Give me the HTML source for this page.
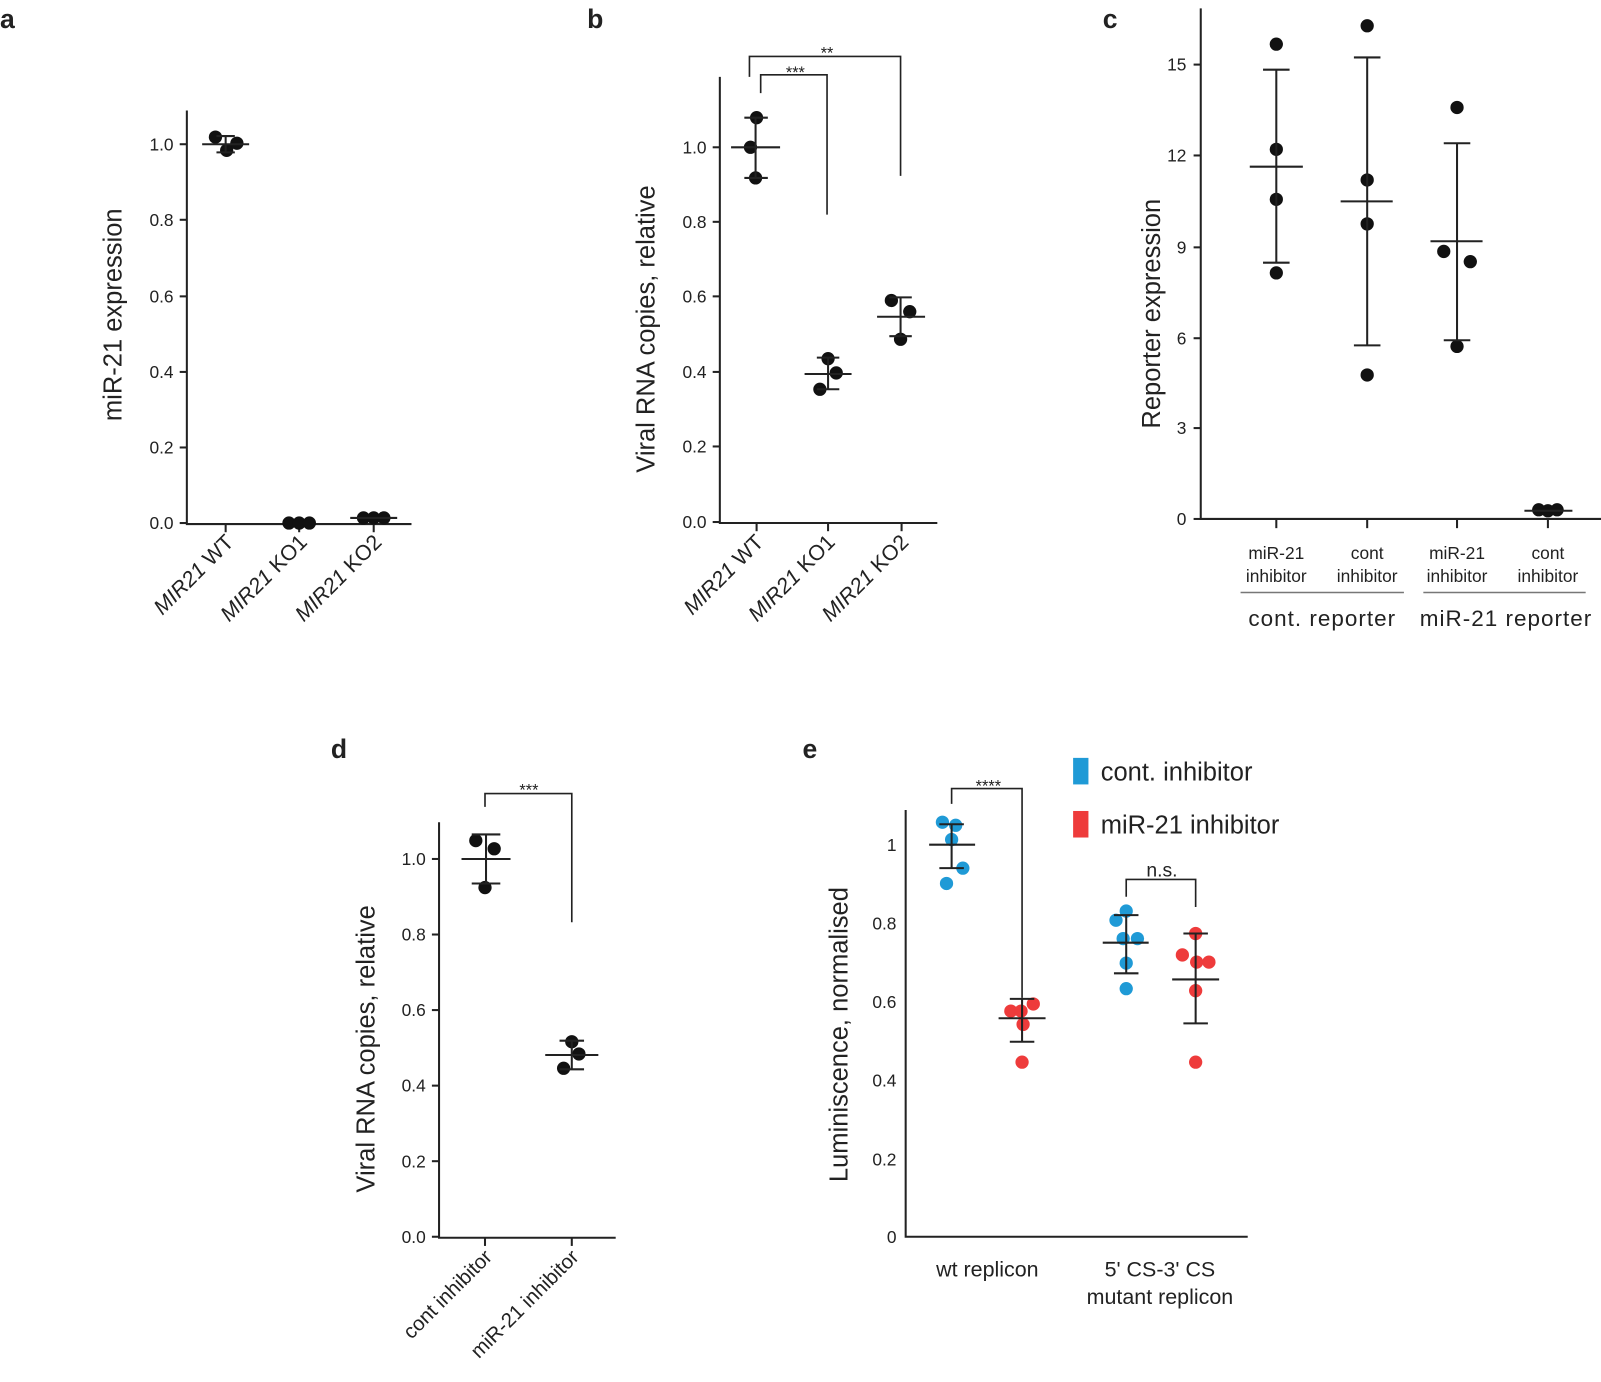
<!DOCTYPE html>
<html><head><meta charset="utf-8"><style>
html,body{margin:0;padding:0;background:#fff}
svg{display:block}
text{font-family:"Liberation Sans",sans-serif;fill:#222}
.t{font-size:17px;text-anchor:end}
.yl{font-size:25px;text-anchor:middle}
.pl{font-size:26px;font-weight:bold}
line,path,polyline{stroke:#222;stroke-width:2;fill:none}
.g{stroke:#777;stroke-width:1.5}
circle{fill:#111}
.b{fill:#1f9ad6}.r{fill:#ee3b3b}
</style></head><body>
<svg width="1601" height="1382" viewBox="0 0 1568 1353" xmlns="http://www.w3.org/2000/svg">
<!-- Panel a -->
<text class="pl" x="0" y="27">a</text>
<polyline points="183,108 183,513 403,513"/>
<g>
<line x1="176" y1="512" x2="183" y2="512"/><line x1="176" y1="438" x2="183" y2="438"/><line x1="176" y1="364" x2="183" y2="364"/><line x1="176" y1="290" x2="183" y2="290"/><line x1="176" y1="215" x2="183" y2="215"/><line x1="176" y1="141" x2="183" y2="141"/>
<text class="t" x="170" y="518">0.0</text><text class="t" x="170" y="444">0.2</text><text class="t" x="170" y="370">0.4</text><text class="t" x="170" y="296">0.6</text><text class="t" x="170" y="221">0.8</text><text class="t" x="170" y="147">1.0</text>
<line x1="221" y1="513" x2="221" y2="521"/><line x1="293" y1="513" x2="293" y2="521"/><line x1="366" y1="513" x2="366" y2="521"/>
</g>
<text class="yl" transform="translate(119,308) rotate(-90)">miR-21 expression</text>
<circle cx="211" cy="134" r="6.5"/><circle cx="222" cy="147" r="6.5"/><circle cx="232" cy="140" r="6.5"/>
<line x1="198" y1="141" x2="244" y2="141"/><line x1="221" y1="133" x2="221" y2="149"/><line x1="212" y1="133" x2="230" y2="133"/><line x1="212" y1="149" x2="230" y2="149"/>
<circle cx="283" cy="512" r="6.5"/><circle cx="293" cy="512" r="6.5"/><circle cx="303" cy="512" r="6.5"/>
<circle cx="356" cy="507" r="6.5"/><circle cx="366" cy="507" r="6.5"/><circle cx="376" cy="507" r="6.5"/>
<line x1="343" y1="507" x2="389" y2="507"/>
<g font-size="21" text-anchor="end">
<text transform="translate(230,532) rotate(-45)"><tspan font-style="italic">MIR21</tspan> WT</text>
<text transform="translate(302,532) rotate(-45)"><tspan font-style="italic">MIR21</tspan> KO1</text>
<text transform="translate(375,532) rotate(-45)"><tspan font-style="italic">MIR21</tspan> KO2</text>
</g>

<!-- Panel b -->
<text class="pl" x="575" y="27">b</text>
<polyline points="705,75 705,512 918,512"/>
<line x1="698" y1="511" x2="705" y2="511"/><line x1="698" y1="437" x2="705" y2="437"/><line x1="698" y1="364" x2="705" y2="364"/><line x1="698" y1="290" x2="705" y2="290"/><line x1="698" y1="217" x2="705" y2="217"/><line x1="698" y1="144" x2="705" y2="144"/>
<text class="t" x="692" y="517">0.0</text><text class="t" x="692" y="443">0.2</text><text class="t" x="692" y="370">0.4</text><text class="t" x="692" y="296">0.6</text><text class="t" x="692" y="223">0.8</text><text class="t" x="692" y="150">1.0</text>
<line x1="741" y1="512" x2="741" y2="520"/><line x1="811" y1="512" x2="811" y2="520"/><line x1="883" y1="512" x2="883" y2="520"/>
<text class="yl" transform="translate(641,322) rotate(-90)">Viral RNA copies, relative</text>
<circle cx="741" cy="115" r="6.5"/><circle cx="735" cy="144" r="6.5"/><circle cx="740" cy="174" r="6.5"/>
<line x1="716" y1="144" x2="764" y2="144"/><line x1="740" y1="115" x2="740" y2="174"/><line x1="729" y1="115" x2="752" y2="115"/><line x1="729" y1="174" x2="752" y2="174"/>
<circle cx="811" cy="351" r="6.5"/><circle cx="819" cy="365" r="6.5"/><circle cx="803" cy="381" r="6.5"/>
<line x1="788" y1="366" x2="834" y2="366"/><line x1="811" y1="350" x2="811" y2="381"/><line x1="800" y1="350" x2="822" y2="350"/><line x1="800" y1="381" x2="822" y2="381"/>
<circle cx="873" cy="294" r="6.5"/><circle cx="891" cy="305" r="6.5"/><circle cx="882" cy="332" r="6.5"/>
<line x1="859" y1="310" x2="906" y2="310"/><line x1="882" y1="291" x2="882" y2="329"/><line x1="871" y1="291" x2="893" y2="291"/><line x1="871" y1="329" x2="893" y2="329"/>
<polyline points="745,91 745,73 810,73 810,210" style="stroke-width:1.6"/>
<polyline points="734,75 734,55 882,55 882,172" style="stroke-width:1.6"/>
<text x="779" y="76" font-size="16" text-anchor="middle">***</text>
<text x="810" y="57" font-size="16" text-anchor="middle">**</text>
<g font-size="21" text-anchor="end">
<text transform="translate(749,532) rotate(-45)"><tspan font-style="italic">MIR21</tspan> WT</text>
<text transform="translate(819,532) rotate(-45)"><tspan font-style="italic">MIR21</tspan> KO1</text>
<text transform="translate(891,532) rotate(-45)"><tspan font-style="italic">MIR21</tspan> KO2</text>
</g>

<!-- Panel c -->
<text class="pl" x="1080" y="27">c</text>
<polyline points="1176,8 1176,508 1568,508"/>
<line x1="1169" y1="508" x2="1176" y2="508"/><line x1="1169" y1="419" x2="1176" y2="419"/><line x1="1169" y1="331" x2="1176" y2="331"/><line x1="1169" y1="242" x2="1176" y2="242"/><line x1="1169" y1="152" x2="1176" y2="152"/><line x1="1169" y1="63" x2="1176" y2="63"/>
<text class="t" x="1162" y="514">0</text><text class="t" x="1162" y="425">3</text><text class="t" x="1162" y="337">6</text><text class="t" x="1162" y="248">9</text><text class="t" x="1162" y="158">12</text><text class="t" x="1162" y="69">15</text>
<line x1="1250" y1="508" x2="1250" y2="517"/><line x1="1339" y1="508" x2="1339" y2="517"/><line x1="1427" y1="508" x2="1427" y2="517"/><line x1="1516" y1="508" x2="1516" y2="517"/>
<text class="yl" transform="translate(1136,307) rotate(-90)">Reporter expression</text>
<circle cx="1250" cy="43" r="6.5"/><circle cx="1250" cy="146" r="6.5"/><circle cx="1250" cy="195" r="6.5"/><circle cx="1250" cy="267" r="6.5"/>
<line x1="1224" y1="163" x2="1276" y2="163"/><line x1="1250" y1="68" x2="1250" y2="257"/><line x1="1237" y1="68" x2="1263" y2="68"/><line x1="1237" y1="257" x2="1263" y2="257"/>
<circle cx="1339" cy="25" r="6.5"/><circle cx="1339" cy="176" r="6.5"/><circle cx="1339" cy="219" r="6.5"/><circle cx="1339" cy="367" r="6.5"/>
<line x1="1313" y1="197" x2="1364" y2="197"/><line x1="1339" y1="56" x2="1339" y2="338"/><line x1="1326" y1="56" x2="1352" y2="56"/><line x1="1326" y1="338" x2="1352" y2="338"/>
<circle cx="1427" cy="105" r="6.5"/><circle cx="1414" cy="246" r="6.5"/><circle cx="1440" cy="256" r="6.5"/><circle cx="1427" cy="339" r="6.5"/>
<line x1="1401" y1="236" x2="1452" y2="236"/><line x1="1427" y1="140" x2="1427" y2="333"/><line x1="1414" y1="140" x2="1440" y2="140"/><line x1="1414" y1="333" x2="1440" y2="333"/>
<circle cx="1507" cy="499" r="6.5"/><circle cx="1516" cy="500" r="6.5"/><circle cx="1525" cy="499" r="6.5"/>
<line x1="1493" y1="500" x2="1540" y2="500"/>
<g font-size="17" text-anchor="middle">
<text x="1250" y="547">miR-21</text><text x="1250" y="570">inhibitor</text>
<text x="1339" y="547">cont</text><text x="1339" y="570">inhibitor</text>
<text x="1427" y="547">miR-21</text><text x="1427" y="570">inhibitor</text>
<text x="1516" y="547">cont</text><text x="1516" y="570">inhibitor</text>
</g>
<line class="g" x1="1215" y1="580" x2="1375" y2="580"/><line class="g" x1="1394" y1="580" x2="1553" y2="580"/>
<text x="1295" y="613" font-size="22" text-anchor="middle" letter-spacing="1">cont. reporter</text>
<text x="1475" y="613" font-size="22" text-anchor="middle" letter-spacing="1">miR-21 reporter</text>

<!-- Panel d -->
<text class="pl" x="324" y="742">d</text>
<polyline points="430,805 430,1212 603,1212"/>
<line x1="423" y1="1211" x2="430" y2="1211"/><line x1="423" y1="1137" x2="430" y2="1137"/><line x1="423" y1="1063" x2="430" y2="1063"/><line x1="423" y1="989" x2="430" y2="989"/><line x1="423" y1="915" x2="430" y2="915"/><line x1="423" y1="841" x2="430" y2="841"/>
<text class="t" x="417" y="1217">0.0</text><text class="t" x="417" y="1143">0.2</text><text class="t" x="417" y="1069">0.4</text><text class="t" x="417" y="995">0.6</text><text class="t" x="417" y="921">0.8</text><text class="t" x="417" y="847">1.0</text>
<line x1="475" y1="1212" x2="475" y2="1220"/><line x1="560" y1="1212" x2="560" y2="1220"/>
<text class="yl" transform="translate(367,1027) rotate(-90)">Viral RNA copies, relative</text>
<circle cx="466" cy="823" r="6.5"/><circle cx="484" cy="831" r="6.5"/><circle cx="475" cy="869" r="6.5"/>
<line x1="452" y1="841" x2="500" y2="841"/><line x1="476" y1="817" x2="476" y2="865"/><line x1="462" y1="817" x2="490" y2="817"/><line x1="462" y1="865" x2="490" y2="865"/>
<circle cx="560" cy="1020" r="6.5"/><circle cx="567" cy="1032" r="6.5"/><circle cx="552" cy="1046" r="6.5"/>
<line x1="534" y1="1033" x2="586" y2="1033"/><line x1="560" y1="1019" x2="560" y2="1047"/><line x1="548" y1="1019" x2="572" y2="1019"/><line x1="548" y1="1047" x2="572" y2="1047"/>
<polyline points="475,790 475,777 560,777 560,903" style="stroke-width:1.6"/>
<text x="518" y="779" font-size="16" text-anchor="middle">***</text>
<g font-size="20" text-anchor="end">
<text transform="translate(483,1232) rotate(-45)">cont inhibitor</text>
<text transform="translate(568,1232) rotate(-45)">miR-21 inhibitor</text>
</g>

<!-- Panel e -->
<text class="pl" x="786" y="742">e</text>
<polyline points="887,793 887,1211 1222,1211"/>
<text class="t" x="878" y="1217">0</text><text class="t" x="878" y="1141">0.2</text><text class="t" x="878" y="1064">0.4</text><text class="t" x="878" y="987">0.6</text><text class="t" x="878" y="910">0.8</text><text class="t" x="878" y="833">1</text>
<text class="yl" transform="translate(830,1013) rotate(-90)">Luminiscence, normalised</text>
<circle class="b" cx="923" cy="805" r="6.5"/><circle class="b" cx="936" cy="808" r="6.5"/><circle class="b" cx="932" cy="822" r="6.5"/><circle class="b" cx="943" cy="850" r="6.5"/><circle class="b" cx="927" cy="865" r="6.5"/>
<line x1="910" y1="827" x2="955" y2="827"/><line x1="932" y1="807" x2="932" y2="850"/><line x1="920" y1="807" x2="944" y2="807"/><line x1="920" y1="850" x2="944" y2="850"/>
<circle class="r" cx="990" cy="990" r="6.5"/><circle class="r" cx="1000" cy="990" r="6.5"/><circle class="r" cx="1012" cy="983" r="6.5"/><circle class="r" cx="1002" cy="1003" r="6.5"/><circle class="r" cx="1001" cy="1040" r="6.5"/>
<line x1="978" y1="997" x2="1024" y2="997"/><line x1="1001" y1="978" x2="1001" y2="1020"/><line x1="989" y1="978" x2="1013" y2="978"/><line x1="989" y1="1020" x2="1013" y2="1020"/>
<circle class="b" cx="1093" cy="901" r="6.5"/><circle class="b" cx="1103" cy="892" r="6.5"/><circle class="b" cx="1114" cy="919" r="6.5"/><circle class="b" cx="1100" cy="919" r="6.5"/><circle class="b" cx="1103" cy="943" r="6.5"/><circle class="b" cx="1103" cy="968" r="6.5"/>
<line x1="1080" y1="923" x2="1125" y2="923"/><line x1="1103" y1="896" x2="1103" y2="953"/><line x1="1091" y1="896" x2="1115" y2="896"/><line x1="1091" y1="953" x2="1115" y2="953"/>
<circle class="r" cx="1171" cy="914" r="6.5"/><circle class="r" cx="1158" cy="935" r="6.5"/><circle class="r" cx="1172" cy="942" r="6.5"/><circle class="r" cx="1184" cy="942" r="6.5"/><circle class="r" cx="1171" cy="970" r="6.5"/><circle class="r" cx="1171" cy="1040" r="6.5"/>
<line x1="1148" y1="959" x2="1194" y2="959"/><line x1="1171" y1="914" x2="1171" y2="1002"/><line x1="1159" y1="914" x2="1183" y2="914"/><line x1="1159" y1="1002" x2="1183" y2="1002"/>
<polyline points="932,787 932,772 1001,772 1001,977" style="stroke-width:1.6"/>
<text x="968" y="775" font-size="16" text-anchor="middle">****</text>
<polyline points="1103,878 1103,861 1171,861 1171,888" style="stroke-width:1.6"/>
<text x="1138" y="858" font-size="19" text-anchor="middle">n.s.</text>
<rect x="1051" y="742" width="15" height="26" fill="#1f9ad6"/>
<text x="1078" y="764" font-size="25">cont. inhibitor</text>
<rect x="1051" y="794" width="15" height="26" fill="#ee3b3b"/>
<text x="1078" y="816" font-size="25">miR-21 inhibitor</text>
<g font-size="21" text-anchor="middle">
<text x="967" y="1250">wt replicon</text>
<text x="1136" y="1250">5' CS-3' CS</text>
<text x="1136" y="1277">mutant replicon</text>
</g>
</svg>
</body></html>
